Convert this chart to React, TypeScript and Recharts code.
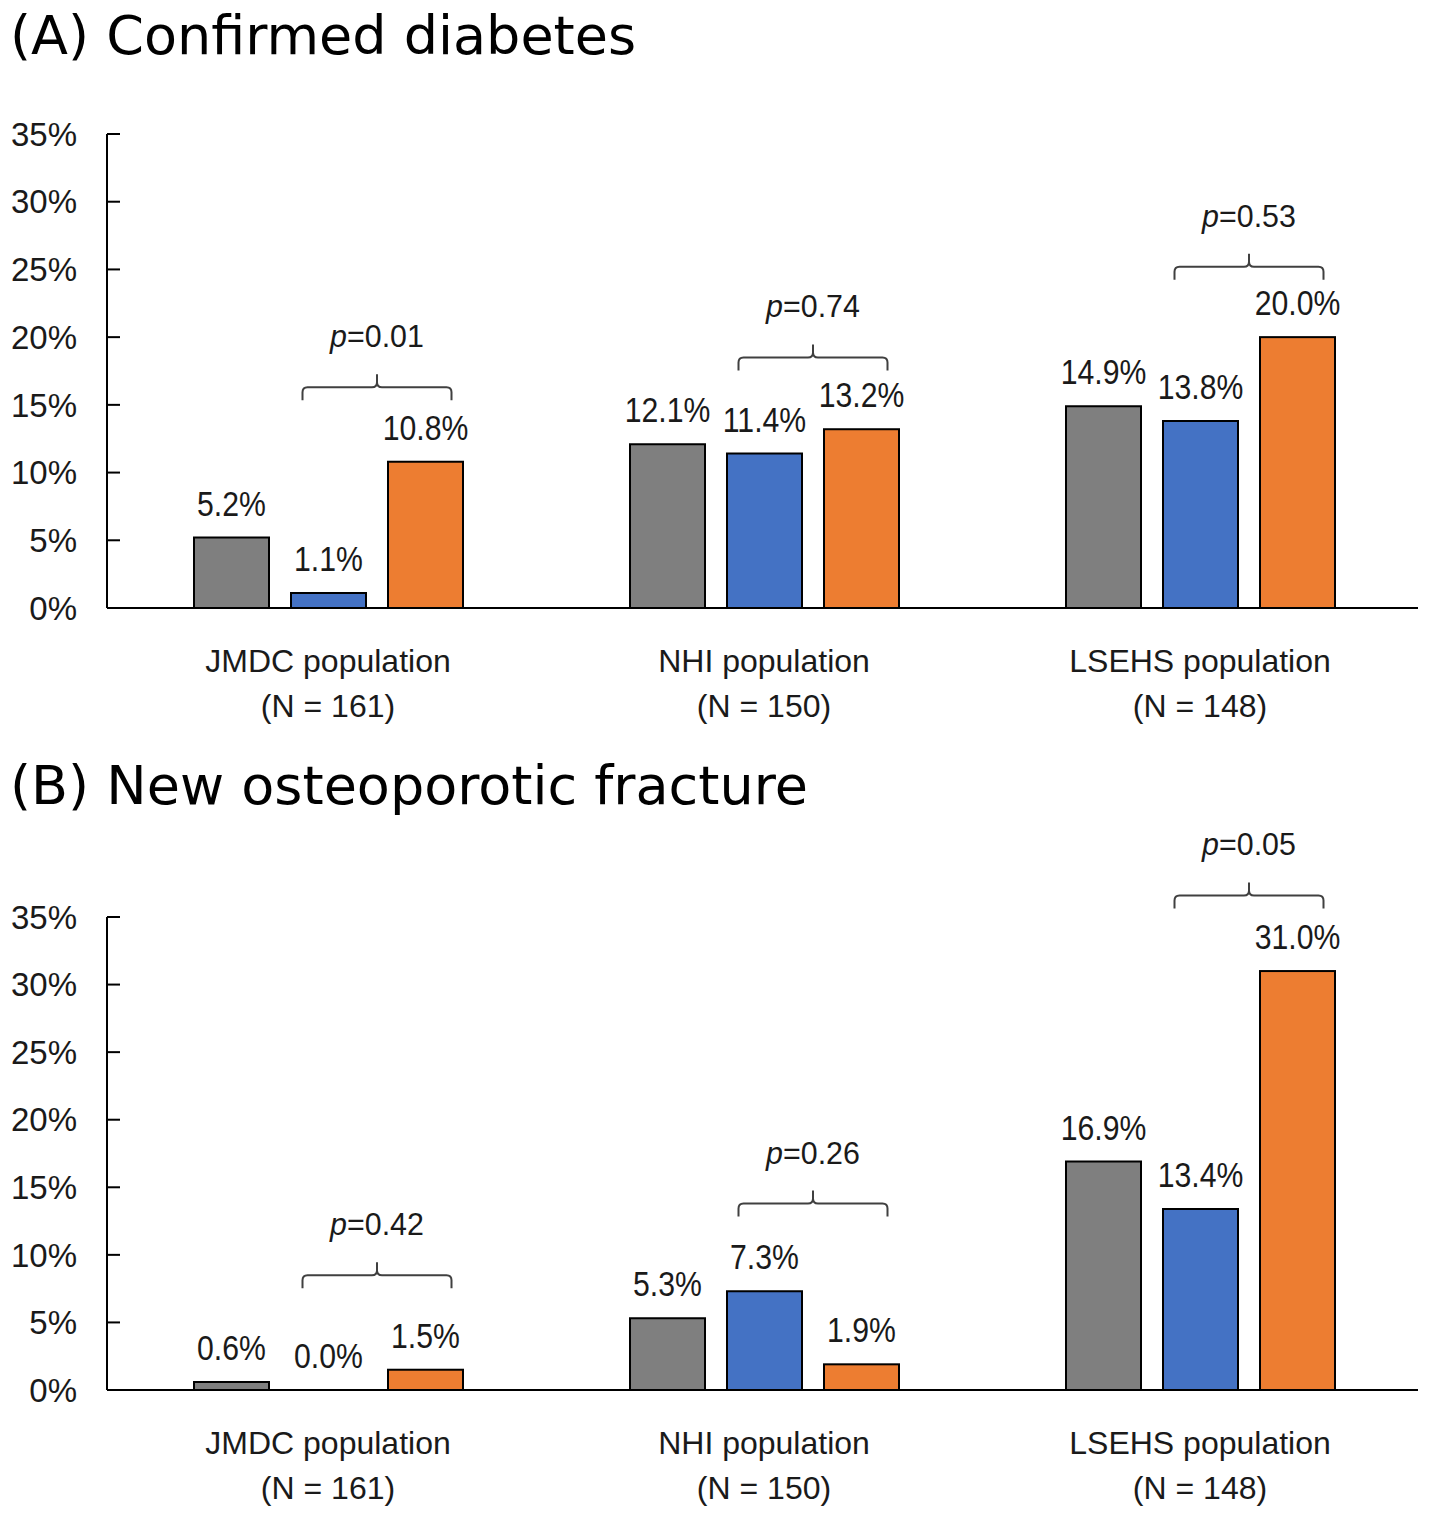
import React from "react";
import { ComposedChart, Bar, XAxis, YAxis, LabelList } from "recharts";

const groups = ["JMDC population", "NHI population", "LSEHS population"];
const groupN = ["(N = 161)", "(N = 150)", "(N = 148)"];
const yTicks = [0, 5, 10, 15, 20, 25, 30, 35];

// (A) Confirmed diabetes
const diabetesGray = [5.2, 12.1, 14.9];
const diabetesBlue = [1.1, 11.4, 13.8];
const diabetesOrange = [10.8, 13.2, 20.0];
const diabetesP = ["0.01", "0.74", "0.53"];
const diabetesBracket = [16.3, 18.5, 25.2];

// (B) New osteoporotic fracture
const fractureGray = [0.6, 5.3, 16.9];
const fractureBlue = [0.0, 7.3, 13.4];
const fractureOrange = [1.5, 1.9, 31.0];
const fractureP = ["0.42", "0.26", "0.05"];
const fractureBracket = [8.5, 13.8, 36.6];

const FONT = "'Liberation Sans', Arial, sans-serif";
const TEXT = "#1a1a1a";
const BAR_SIZE = 75;
const BAR_GAP = 22;
const AXIS_X = 107;

const buildRows = (gray: number[], blue: number[], orange: number[], p: string[], lvl: number[]) =>
  groups.map((g, i) => ({ group: g, gray: gray[i], blue: blue[i], orange: orange[i], p: p[i], lvl: lvl[i] }));

const StretchText = ({ x, y, sx, size, anchor = "middle", children }: any) => (
  <text
    transform={`translate(${x} ${y}) scale(${sx} 1)`}
    textAnchor={anchor}
    fontSize={size}
    fontFamily={FONT}
    fill={TEXT}
  >
    {children}
  </text>
);

const YTick = ({ x, y, payload }: any) => (
  <g>
    <text x={x} y={y} dy="0.355em" textAnchor="end" fontSize={33} fontFamily={FONT} fill={TEXT}>
      {payload.value}%
    </text>
    <line x1={AXIS_X} x2={AXIS_X + 13} y1={y} y2={y} stroke="#000" strokeWidth={2} />
  </g>
);

const XTick = ({ x, y, payload, index }: any) => (
  <g>
    <StretchText x={x} y={y + 64} sx={1} size={32}>{payload.value}</StretchText>
    <StretchText x={x} y={y + 109} sx={1} size={32}>{groupN[index]}</StretchText>
  </g>
);

const ValueLabel = (props: any) => {
  const vb = props.viewBox || {};
  const x = vb.x ?? props.x;
  const y = vb.y ?? props.y;
  const w = vb.width ?? props.width;
  const h = vb.height ?? props.height ?? 0;
  const v = Number(props.value);
  const top = Math.min(y, y + h);
  return (
    <StretchText x={x + w / 2} y={top - 22} sx={0.84} size={36}>
      {v.toFixed(1)}%
    </StretchText>
  );
};

// orange bar draws itself plus the p-value bracket between blue and orange
const OrangeShape = (props: any) => {
  const { x, y, width, height, payload, fill } = props;
  const base = y + height;
  const ppu = payload.orange > 0 ? height / payload.orange : 0;
  const oc = x + width / 2;
  const bc = oc - (width + BAR_GAP);
  const mid = (oc + bc) / 2;
  const half = (oc - bc) / 2 + 26;
  const L = mid - half;
  const R = mid + half;
  const by = base - payload.lvl * ppu;
  const r = 5;
  const d =
    `M${L},${by + 13} V${by + r} Q${L},${by} ${L + r},${by} H${mid - r} Q${mid},${by} ${mid},${by - r} V${by - 13} ` +
    `M${mid},${by - r} Q${mid},${by} ${mid + r},${by} H${R - r} Q${R},${by} ${R},${by + r} V${by + 13}`;
  return (
    <g>
      <rect x={x} y={y} width={width} height={height} fill={fill} stroke="#000" strokeWidth={2} />
      <path d={d} fill="none" stroke="#404040" strokeWidth={2} />
      <text
        transform={`translate(${mid} ${by - 40}) scale(0.98 1)`}
        textAnchor="middle"
        fontSize={31}
        fontFamily={FONT}
        fill={TEXT}
      >
        <tspan fontStyle="italic">p</tspan>={payload.p}
      </text>
    </g>
  );
};

function Panel({ data, height, top, axisHeight, bottom }: any) {
  return (
    <ComposedChart
      width={1429}
      height={height}
      data={data}
      margin={{ top, right: 11, bottom, left: 0 }}
      barSize={BAR_SIZE}
      barGap={BAR_GAP}
    >
      <XAxis
        dataKey="group"
        axisLine={{ stroke: "#000", strokeWidth: 2 }}
        tickLine={false}
        tickSize={0}
        tickMargin={0}
        height={axisHeight}
        padding={{ left: 3, right: 0 }}
        interval={0}
        tick={<XTick />}
      />
      <YAxis
        width={AXIS_X}
        domain={[0, 35]}
        ticks={yTicks}
        interval={0}
        axisLine={{ stroke: "#000", strokeWidth: 2 }}
        tickLine={false}
        tickSize={0}
        tickMargin={30}
        tick={<YTick />}
      />
      <Bar dataKey="gray" fill="#7F7F7F" stroke="#000" strokeWidth={2} isAnimationActive={false}>
        <LabelList dataKey="gray" content={<ValueLabel />} />
      </Bar>
      <Bar dataKey="blue" fill="#4472C4" stroke="#000" strokeWidth={2} minPointSize={0.01} isAnimationActive={false}>
        <LabelList dataKey="blue" content={<ValueLabel />} />
      </Bar>
      <Bar dataKey="orange" fill="#ED7D31" shape={<OrangeShape />} isAnimationActive={false}>
        <LabelList dataKey="orange" content={<ValueLabel />} />
      </Bar>
    </ComposedChart>
  );
}

const titleStyle: React.CSSProperties = {
  position: "absolute",
  left: 10,
  margin: 0,
  fontFamily: "'DejaVu Sans', Verdana, sans-serif",
  fontSize: 54,
  lineHeight: 1,
  fontWeight: 400,
  color: "#000",
  whiteSpace: "nowrap",
};

export default function App() {
  const diabetes = buildRows(diabetesGray, diabetesBlue, diabetesOrange, diabetesP, diabetesBracket);
  const fracture = buildRows(fractureGray, fractureBlue, fractureOrange, fractureP, fractureBracket);
  return (
    <div style={{ position: "absolute", left: 0, top: 0, width: 1429, height: 1515, background: "#fff", overflow: "hidden" }}>
      <div style={{ position: "absolute", left: 0, top: 90 }}>
        <Panel data={diabetes} height={650} top={44} axisHeight={120} bottom={12} />
      </div>
      <div style={{ position: "absolute", left: 0, top: 800 }}>
        <Panel data={fracture} height={715} top={117} axisHeight={115} bottom={10} />
      </div>
      <div style={{ ...titleStyle, top: 9 }}>(A) Confirmed diabetes</div>
      <div style={{ ...titleStyle, top: 759 }}>(B) New osteoporotic fracture</div>
    </div>
  );
}
